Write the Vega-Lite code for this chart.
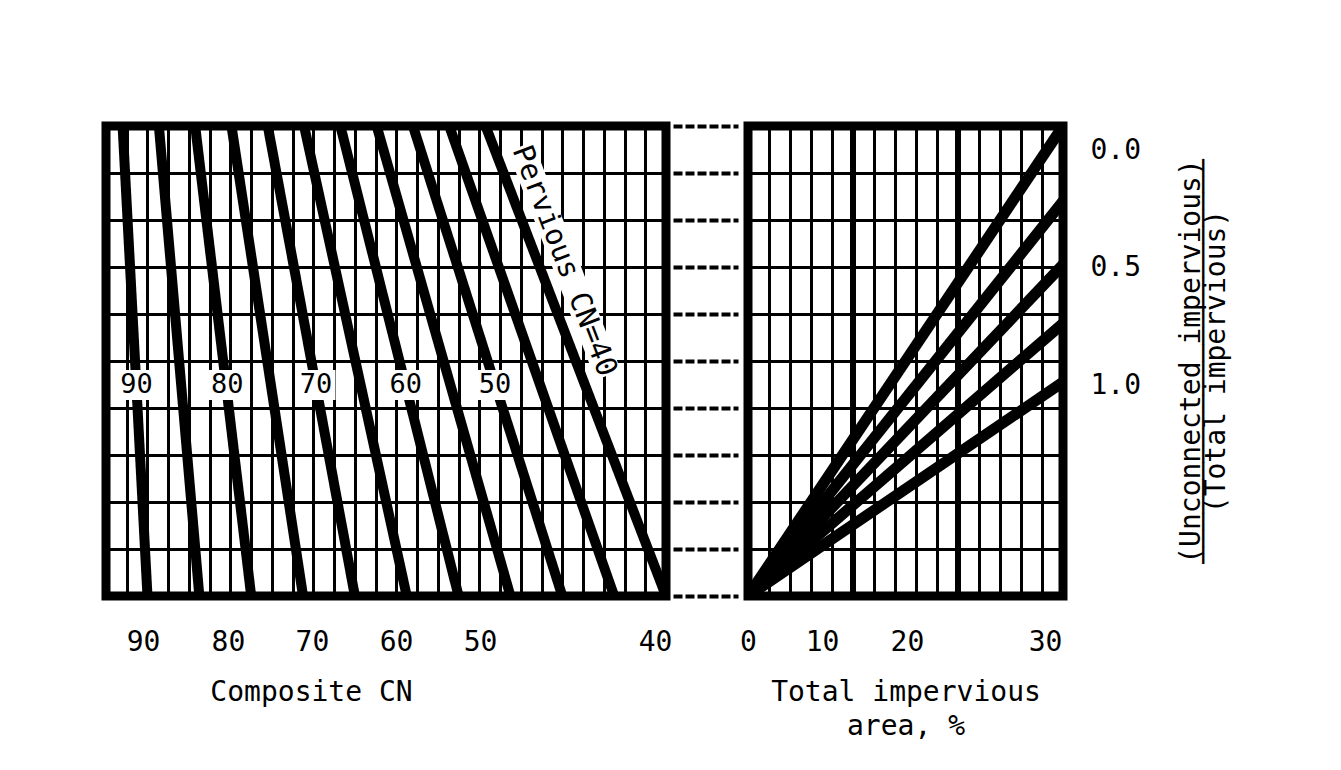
{
  "$schema": "https://vega.github.io/schema/vega-lite/v6.json",
  "background": "white",
  "padding": {"left": 101, "top": 118, "right": 5, "bottom": 5},
  "bounds": "flush",
  "spacing": 82,
  "datasets": {
    "cnLines": [
      {"pc": 90, "cn": 90, "yv": 0}, {"pc": 90, "cn": 92.4, "yv": 10},
      {"pc": 85, "cn": 85, "yv": 0}, {"pc": 85, "cn": 88.9, "yv": 10},
      {"pc": 80, "cn": 80, "yv": 0}, {"pc": 80, "cn": 85.4, "yv": 10},
      {"pc": 75, "cn": 75, "yv": 0}, {"pc": 75, "cn": 81.9, "yv": 10},
      {"pc": 70, "cn": 70, "yv": 0}, {"pc": 70, "cn": 78.4, "yv": 10},
      {"pc": 65, "cn": 65, "yv": 0}, {"pc": 65, "cn": 74.9, "yv": 10},
      {"pc": 60, "cn": 60, "yv": 0}, {"pc": 60, "cn": 71.4, "yv": 10},
      {"pc": 55, "cn": 55, "yv": 0}, {"pc": 55, "cn": 67.9, "yv": 10},
      {"pc": 50, "cn": 50, "yv": 0}, {"pc": 50, "cn": 64.4, "yv": 10},
      {"pc": 45, "cn": 45, "yv": 0}, {"pc": 45, "cn": 60.9, "yv": 10},
      {"pc": 40, "cn": 40, "yv": 0}, {"pc": 40, "cn": 57.4, "yv": 10}
    ],
    "cnLabels": [
      {"cn": 91.05, "yv": 4.49, "txt": "90"},
      {"cn": 82.3, "yv": 4.49, "txt": "80"},
      {"cn": 73.75, "yv": 4.49, "txt": "70"},
      {"cn": 65.1, "yv": 4.49, "txt": "60"},
      {"cn": 56.5, "yv": 4.49, "txt": "50"}
    ],
    "pervious": [{"cn": 49.8, "yv": 7.13, "txt": "Pervious CN=40"}],
    "impLines": [
      {"ratio": "0.0", "imp": 0, "yv": 0}, {"ratio": "0.0", "imp": 30, "yv": 10},
      {"ratio": "0.25", "imp": 0, "yv": 0}, {"ratio": "0.25", "imp": 30, "yv": 8.4},
      {"ratio": "0.5", "imp": 0, "yv": 0}, {"ratio": "0.5", "imp": 30, "yv": 7.05},
      {"ratio": "0.75", "imp": 0, "yv": 0}, {"ratio": "0.75", "imp": 30, "yv": 5.8},
      {"ratio": "1.0", "imp": 0, "yv": 0}, {"ratio": "1.0", "imp": 30, "yv": 4.55}
    ],
    "impMajor": [{"imp": 10, "lo": 0, "hi": 10}, {"imp": 20, "lo": 0, "hi": 10}]
  },
  "hconcat": [
    {
      "width": 560,
      "height": 470,
      "layer": [
        {
          "data": {"name": "cnLines"},
          "mark": {"type": "line", "color": "black", "strokeWidth": 10, "clip": true, "strokeCap": "butt"},
          "encoding": {
            "x": {"field": "cn", "type": "quantitative",
              "scale": {"domain": [40, 94], "reverse": true, "nice": false, "zero": false},
              "axis": {"orient": "top", "values": [42,44,46,48,50,52,54,56,58,60,62,64,66,68,70,72,74,76,78,80,82,84,86,88,90,92],
                "labels": false, "ticks": false, "tickSize": 0, "domain": false, "grid": true, "title": null}},
            "y": {"field": "yv", "type": "quantitative",
              "scale": {"domain": [0, 10], "nice": false, "zero": false},
              "axis": {"orient": "left", "values": [1,2,3,4,5,6,7,8,9],
                "labels": false, "ticks": false, "tickSize": 0, "domain": false, "grid": true, "title": null}},
            "detail": {"field": "pc", "type": "nominal"}
          }
        },
        {
          "data": {"name": "cnLabels"},
          "mark": {"type": "point", "shape": "M-1.3,-1H1.3V1H-1.3Z", "filled": true, "color": "white", "opacity": 1, "size": 900, "strokeWidth": 0},
          "encoding": {
            "x": {"field": "cn", "type": "quantitative",
              "axis": {"orient": "bottom", "values": [90.43, 82.24, 74.14, 66.03, 57.93, 41.06],
                "labelExpr": "'' + floor((datum.value + 2) / 10) * 10",
                "grid": false, "ticks": false, "tickSize": 0, "domain": false, "labelPadding": 32,
                "labelFlush": false, "labelOverlap": false,
                "title": "Composite CN", "titlePadding": 22, "titleX": 205}},
            "y": {"field": "yv", "type": "quantitative",
              "axis": {"orient": "right", "values": [0,1,2,3,4,5,6,7,8,9,10],
                "labels": false, "ticks": true, "tickSize": 65, "tickDash": [9, 3], "tickWidth": 4,
                "tickColor": "black", "offset": 7, "grid": false, "domain": false, "title": null}}
          }
        },
        {
          "data": {"name": "cnLabels"},
          "mark": {"type": "text", "font": "DejaVu Sans Mono", "fontSize": 27, "color": "black", "align": "center", "baseline": "middle"},
          "encoding": {
            "x": {"field": "cn", "type": "quantitative", "axis": null},
            "y": {"field": "yv", "type": "quantitative", "axis": null},
            "text": {"field": "txt"}
          }
        },
        {
          "data": {"name": "pervious"},
          "mark": {"type": "point", "shape": "M-1,-0.11H1V0.11H-1Z", "filled": true, "color": "white", "opacity": 1, "size": 60000, "strokeWidth": 0, "angle": 69},
          "encoding": {
            "x": {"field": "cn", "type": "quantitative", "axis": null},
            "y": {"field": "yv", "type": "quantitative", "axis": null}
          }
        },
        {
          "data": {"name": "pervious"},
          "mark": {"type": "text", "font": "DejaVu Sans Mono", "fontSize": 29, "color": "black", "align": "center", "baseline": "middle", "angle": 69},
          "encoding": {
            "x": {"field": "cn", "type": "quantitative", "axis": null},
            "y": {"field": "yv", "type": "quantitative", "axis": null},
            "text": {"field": "txt"}
          }
        }
      ],
      "resolve": {"axis": {"x": "independent", "y": "independent"}}
    },
    {
      "width": 315,
      "height": 470,
      "layer": [
        {
          "data": {"name": "impLines"},
          "mark": {"type": "line", "color": "black", "strokeWidth": 11, "clip": true, "strokeCap": "butt"},
          "encoding": {
            "x": {"field": "imp", "type": "quantitative",
              "scale": {"domain": [0, 30], "nice": false, "zero": false},
              "axis": {"orient": "top", "values": [2,4,6,8,10,12,14,16,18,20,22,24,26,28],
                "labels": false, "ticks": false, "tickSize": 0, "domain": false, "grid": true, "title": null}},
            "y": {"field": "yv", "type": "quantitative",
              "scale": {"domain": [0, 10], "nice": false, "zero": false},
              "axis": {"orient": "left", "values": [1,2,3,4,5,6,7,8,9],
                "labels": false, "ticks": false, "tickSize": 0, "domain": false, "grid": true, "title": null}},
            "detail": {"field": "ratio", "type": "nominal"}
          }
        },
        {
          "data": {"name": "impMajor"},
          "mark": {"type": "rule", "color": "black", "strokeWidth": 6},
          "encoding": {
            "x": {"field": "imp", "type": "quantitative",
              "axis": {"orient": "bottom", "values": [0, 7.05, 15.14, 28.29],
                "labelExpr": "'' + round(datum.value / 10) * 10",
                "grid": false, "ticks": false, "tickSize": 0, "domain": false, "labelPadding": 32,
                "labelFlush": false, "labelOverlap": false,
                "title": ["Total impervious", "area, %"], "titlePadding": 22, "titleLineHeight": 34}},
            "y": {"field": "lo", "type": "quantitative",
              "axis": {"orient": "right", "values": [9.47, 6.98, 4.47],
                "labelExpr": "format(round((10 - datum.value) / 2.5) / 2, '.1f')",
                "grid": false, "ticks": false, "tickSize": 0, "domain": false, "labelPadding": 27,
                "labelFlush": false, "labelOverlap": false,
                "title": ["(Unconnected impervious)", "\u2500\u2500\u2500\u2500\u2500\u2500\u2500\u2500\u2500\u2500\u2500\u2500\u2500\u2500\u2500\u2500\u2500\u2500\u2500\u2500\u2500\u2500\u2500\u2500", "(Total impervious)"],
                "titleAngle": 270, "titleBaseline": "top", "titlePadding": 12, "titleLineHeight": 12.5}},
            "y2": {"field": "hi"}
          }
        }
      ],
      "resolve": {"axis": {"x": "independent", "y": "independent"}}
    }
  ],
  "config": {
    "view": {"stroke": "black", "strokeWidth": 9},
    "font": "DejaVu Sans Mono",
    "axis": {
      "labelFont": "DejaVu Sans Mono", "titleFont": "DejaVu Sans Mono",
      "labelFontSize": 28, "titleFontSize": 28, "titleFontWeight": "normal",
      "labelColor": "black", "titleColor": "black",
      "gridColor": "black", "gridOpacity": 1, "gridWidth": 3
    }
  }
}
